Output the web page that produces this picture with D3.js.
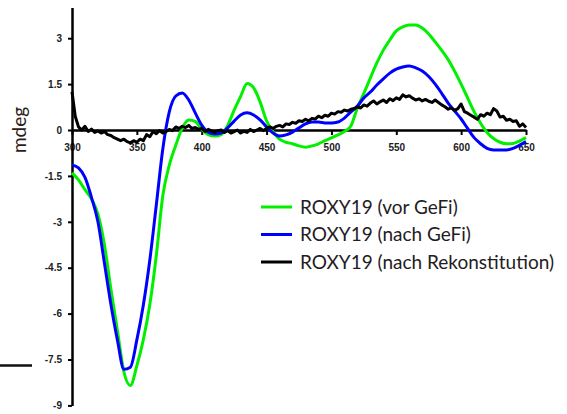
<!DOCTYPE html>
<html>
<head>
<meta charset="utf-8">
<script src="https://cdn.jsdelivr.net/npm/d3@7"></script>
<style>
  body { margin: 0; background: #fff; }
  svg { display: block; }
</style>
</head>
<body>
<svg id="chart" width="567" height="414"></svg>
<script>
// CD spectra of ROXY19 (mdeg vs. wavelength in nm)
const wavelengths = [300,305,310,315,320,325,330,335,340,345,350,355,360,365,370,375,380,385,390,395,
  400,405,410,415,420,425,430,435,440,445,450,455,460,465,470,475,480,485,490,495,
  500,505,510,515,520,525,530,535,540,545,550,555,560,565,570,575,580,585,590,595,
  600,605,610,615,620,625,630,635,640,645,650];

const vorGeFi = [-1.40,-1.63,-1.95,-2.25,-2.75,-3.75,-5.20,-6.55,-7.90,-8.35,-7.70,-6.85,-5.70,-4.10,-2.15,-1.15,-0.50,0.07,0.33,0.28,
  0.02,-0.15,-0.20,-0.15,0.15,0.65,1.10,1.52,1.38,0.92,0.30,-0.05,-0.30,-0.40,-0.45,-0.52,-0.56,-0.52,-0.45,-0.35,
  -0.26,-0.16,-0.05,0.13,0.72,1.20,1.70,2.19,2.61,2.94,3.24,3.37,3.43,3.43,3.33,3.14,2.88,2.60,2.30,1.92,
  1.50,1.05,0.60,0.22,-0.08,-0.28,-0.40,-0.45,-0.44,-0.36,-0.25];

const nachGeFi = [-1.14,-1.24,-1.55,-2.20,-3.00,-4.35,-5.70,-6.86,-7.82,-7.75,-6.86,-5.72,-4.25,-2.45,-0.62,0.59,1.11,1.21,0.98,0.56,
  0.16,-0.07,-0.13,-0.10,0.07,0.29,0.49,0.56,0.49,0.33,0.10,-0.10,-0.20,-0.16,-0.07,0.07,0.20,0.26,0.26,0.23,
  0.23,0.26,0.39,0.59,0.78,1.05,1.24,1.47,1.67,1.86,1.99,2.06,2.09,2.03,1.93,1.75,1.50,1.20,0.88,0.62,
  0.36,0.05,-0.25,-0.45,-0.60,-0.65,-0.65,-0.65,-0.60,-0.50,-0.38];

const rekonWavelengths = [300,302.5,305,307.5,310,312.5,315,317.5,320,322.5,325,327.5,330,332.5,335,337.5,340,342.5,345,347.5,
  350,352.5,355,357.5,360,362.5,365,367.5,370,372.5,375,377.5,380,382.5,385,387.5,390,392.5,395,397.5,
  400,402.5,405,407.5,410,412.5,415,417.5,420,422.5,425,427.5,430,432.5,435,437.5,440,442.5,445,447.5,
  450,452.5,455,457.5,460,462.5,465,467.5,470,472.5,475,477.5,480,482.5,485,487.5,490,492.5,495,497.5,
  500,502.5,505,507.5,510,512.5,515,517.5,520,522.5,525,527.5,530,532.5,535,537.5,540,542.5,545,547.5,
  550,552.5,555,557.5,560,562.5,565,567.5,570,572.5,575,577.5,580,582.5,585,587.5,590,592.5,595,597.5,
  600,602.5,605,607.5,610,612.5,615,617.5,620,622.5,625,627.5,630,632.5,635,637.5,640,642.5,645,647.5,650];

const nachRekonstitution = [1.25,0.45,0.10,0.00,0.12,-0.05,0.03,-0.08,-0.03,-0.10,-0.05,-0.15,-0.18,-0.25,-0.30,-0.35,-0.30,-0.38,-0.42,-0.35,
  -0.40,-0.30,-0.35,-0.15,-0.22,-0.05,-0.12,-0.02,-0.10,-0.05,0.02,-0.02,0.10,0.05,0.12,0.08,0.15,0.05,0.08,0.02,
  0.05,-0.05,0.02,-0.03,-0.08,-0.02,0.00,-0.08,-0.02,-0.10,-0.05,0.00,-0.10,-0.04,-0.08,0.02,-0.05,0.00,0.05,-0.02,
  0.05,0.10,0.05,0.12,0.15,0.10,0.20,0.18,0.25,0.22,0.30,0.28,0.35,0.30,0.38,0.36,0.45,0.40,0.48,0.45,
  0.55,0.52,0.60,0.58,0.65,0.62,0.68,0.70,0.75,0.72,0.82,0.78,0.88,0.95,0.85,0.92,0.98,0.90,1.02,0.96,
  1.05,1.00,1.15,1.08,1.12,1.04,0.98,1.02,0.95,1.00,0.94,0.90,0.98,0.90,0.82,0.76,0.68,0.72,0.64,0.70,
  0.85,0.60,0.55,0.48,0.42,0.35,0.50,0.45,0.55,0.50,0.70,0.62,0.42,0.45,0.32,0.35,0.28,0.30,0.12,0.20,0.08];

const xTicks = [300,350,400,450,500,550,600,650];
const yTicks = [3,1.5,0,-1.5,-3,-4.5,-6,-7.5,-9];
const yTickLabels = ["3","1.5","0","-1.5","-3","-4.5","-6","-7.5","-9"];

const legendLabels = ["ROXY19 (vor GeFi)", "ROXY19 (nach GeFi)", "ROXY19 (nach Rekonstitution)"];
const seriesColors = ["#00f000", "#0000ff", "#000000"];

const svg = d3.select("#chart");

const x = d3.scaleLinear().domain([300, 650]).range([72, 526]);
const y = d3.scaleLinear().domain([-9, 4]).range([405.4, 7.6]);

const tickFont = "'Liberation Sans', Arial, sans-serif";
const textColor = "#22201e";

// x axis along the zero line
const xAxis = svg.append("g")
  .attr("transform", `translate(0,${y(0)})`)
  .call(d3.axisBottom(x).tickValues(xTicks).tickSize(5).tickSizeOuter(0).tickPadding(9));
xAxis.select(".domain").attr("stroke", "#000").attr("stroke-width", 2.5);
xAxis.selectAll(".tick line").attr("stroke", "#000").attr("stroke-width", 2);
xAxis.selectAll(".tick text")
  .attr("font-family", tickFont).attr("font-size", 10).attr("font-weight", "bold").attr("fill", textColor);

// y axis
const yAxis = svg.append("g")
  .attr("transform", `translate(${x(300)},0)`)
  .call(d3.axisLeft(y).tickValues(yTicks).tickSize(4).tickSizeOuter(0).tickPadding(6)
    .tickFormat((d, i) => yTickLabels[i]));
yAxis.select(".domain").attr("stroke", "#000").attr("stroke-width", 2.5);
yAxis.selectAll(".tick line").attr("stroke", "#000").attr("stroke-width", 2);
yAxis.selectAll(".tick text")
  .attr("font-family", tickFont).attr("font-size", 10).attr("font-weight", "bold").attr("fill", textColor);

// y axis title
svg.append("text")
  .attr("transform", `translate(26,${y(0)}) rotate(-90)`)
  .attr("text-anchor", "middle")
  .attr("font-family", "Lato, 'Open Sans', sans-serif")
  .attr("font-size", 19)
  .attr("fill", "#2b1d14")
  .text("mdeg");

// stray rule at the left margin
svg.append("line")
  .attr("x1", 0).attr("x2", 32).attr("y1", 365.5).attr("y2", 365.5)
  .attr("stroke", "#111").attr("stroke-width", 2.5);

// spectra
const smooth = d3.line().x(d => x(d[0])).y(d => y(d[1])).curve(d3.curveMonotoneX);
const raw = d3.line().x(d => x(d[0])).y(d => y(d[1]));

const series = [
  { pts: d3.zip(wavelengths, vorGeFi), gen: smooth, color: seriesColors[0] },
  { pts: d3.zip(wavelengths, nachGeFi), gen: smooth, color: seriesColors[1] },
  { pts: d3.zip(rekonWavelengths, nachRekonstitution), gen: raw, color: seriesColors[2] }
];

svg.append("g").selectAll("path").data(series).join("path")
  .attr("d", s => s.gen(s.pts))
  .attr("fill", "none")
  .attr("stroke", s => s.color)
  .attr("stroke-width", 3)
  .attr("stroke-linejoin", "round");

// legend
const legend = svg.append("g").attr("transform", "translate(261,207)");
const rows = legend.selectAll("g").data(legendLabels).join("g")
  .attr("transform", (d, i) => `translate(0,${i * 27.5})`);
rows.append("line")
  .attr("x1", 0).attr("x2", 31).attr("y1", 0).attr("y2", 0)
  .attr("stroke", (d, i) => seriesColors[i]).attr("stroke-width", 3);
rows.append("text")
  .attr("x", 39).attr("y", 0).attr("dy", "0.35em")
  .attr("font-family", "Lato, 'Open Sans', sans-serif")
  .attr("font-size", 19)
  .attr("fill", "#241c24")
  .text(d => d);
</script>
</body>
</html>
